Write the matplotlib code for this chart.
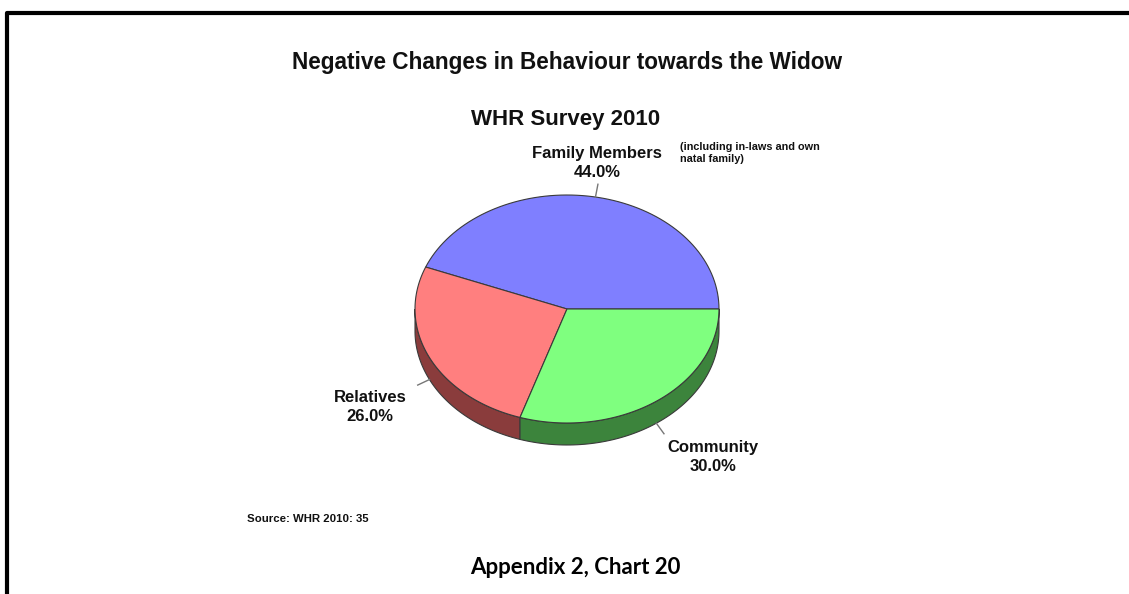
import numpy as np
import matplotlib as mpl
mpl.use('Agg')
import matplotlib.pyplot as plt
from matplotlib.patches import Polygon

plt.rcParams['font.family'] = ['Liberation Sans', 'DejaVu Sans']

# survey shares (percent)
labels = ['Family Members', 'Relatives', 'Community']
shares = [44.0, 26.0, 30.0]
top_colors = ['#7f7fff', '#ff7f7f', '#7fff7f']
side_colors = ['#3f3f8f', '#8a3c3c', '#3c843c']

W, H = 1129, 594
fig = plt.figure(figsize=(W / 100, H / 100), dpi=100)
ax = fig.add_axes([0, 0, 1, 1])
ax.set_xlim(0, W)
ax.set_ylim(H, 0)
ax.axis('off')

# page frame (left and top rules)
ax.plot([7, 7, W], [H, 13, 13], color='black', lw=3, solid_capstyle='butt')

# pie geometry in pixel units
cx, cy, rx, ry, depth = 567, 309, 152, 114, 22
edge = '#3a3a3a'


def rim(t0, t1, dy=0, n=80):
    t = np.radians(np.linspace(t0, t1, n))
    return np.column_stack([cx + rx * np.cos(t), cy - ry * np.sin(t) + dy])


bounds = np.concatenate([[0], np.cumsum(shares) / sum(shares) * 360])

# sides first (only the front half, 180..360 deg, is visible)
for i in range(len(shares)):
    a0, a1 = max(bounds[i], 180), min(bounds[i + 1], 360)
    if a1 <= a0:
        continue
    pts = np.vstack([rim(a0, a1), rim(a0, a1, depth)[::-1]])
    ax.add_patch(Polygon(pts, closed=True, fc=side_colors[i], ec=edge, lw=0.8))

# top faces
for i in range(len(shares)):
    pts = np.vstack([[cx, cy], rim(bounds[i], bounds[i + 1])])
    ax.add_patch(Polygon(pts, closed=True, fc=top_colors[i], ec=edge, lw=0.8))

# labels with short leader lines
label_pos = [(597, 163), (370, 407), (713, 457)]
for i, lab in enumerate(labels):
    mid = (bounds[i] + bounds[i + 1]) / 2
    r = np.radians(mid)
    dy = depth if 180 < mid < 360 else 0
    x0, y0 = cx + rx * np.cos(r), cy - ry * np.sin(r) + dy
    ux, uy = np.cos(r), -np.sin(r)
    ax.plot([x0, x0 + 13 * ux], [y0, y0 + 13 * uy], color='#777777', lw=1)
    tx, ty = label_pos[i]
    ax.text(tx, ty, f'{lab}\n{shares[i]:.1f}%', ha='center', va='center',
            fontsize=12, fontweight='bold', linespacing=1.35, color='#111111')

ax.text(680, 153, '(including in-laws and own\nnatal family)', ha='left', va='center',
        fontsize=7.8, fontweight='bold', linespacing=1.2, color='#111111')

ax.text(567, 63, 'Negative Changes in Behaviour towards the Widow', ha='center',
        va='center', fontsize=16.3, fontweight='bold', color='#111111')
ax.text(566, 119, 'WHR Survey 2010', ha='center', va='center', fontsize=16,
        fontweight='bold', color='#111111')
ax.text(247, 519, 'Source: WHR 2010: 35', ha='left', va='center', fontsize=8.2,
        fontweight='bold', color='#111111')

ax.text(575, 567, 'Appendix 2, Chart 20', ha='center', va='center', fontsize=16,
        fontweight='bold', family=['Lato', 'DejaVu Sans'], color='black')

fig.savefig('out.png', dpi=100)
